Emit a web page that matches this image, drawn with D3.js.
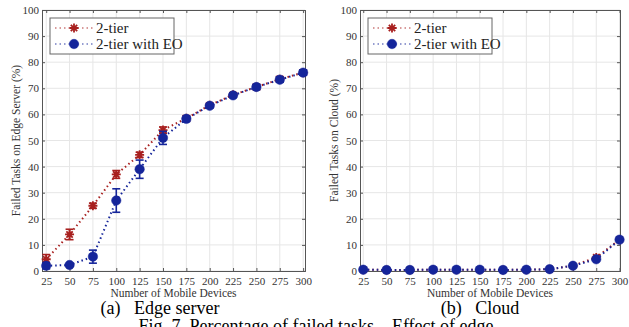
<!DOCTYPE html>
<html>
<head>
<meta charset="utf-8">
<script src="https://cdn.jsdelivr.net/npm/d3@7"></script>
<style>
  body { margin: 0; background: #fff; }
  svg { display: block; }
  svg text { font-family: "Liberation Serif", "Times New Roman", serif; }
</style>
</head>
<body>
<svg id="chart"></svg>
<script>
let width = 629;
let height = 327;
const serif = "Liberation Serif";

// data
const devices = [25, 50, 75, 100, 125, 150, 175, 200, 225, 250, 275, 300];
const yTicks = [0, 10, 20, 30, 40, 50, 60, 70, 80, 90, 100];

const edgeTier2 = [4.5, 14, 25, 37, 44.5, 54, 58.5, 63.5, 67.5, 70.5, 73.5, 76];
const edgeTier2Err = [1.8, 2, 1, 1.5, 1, 1.2, 1, 0.8, 0.8, 1, 1, 1];
const edgeEO = [2, 2.3, 5.5, 27, 39, 51, 58.3, 63.3, 67.3, 70.5, 73.3, 76];
const edgeEOErr = [1.2, 0.5, 2.5, 4.5, 3.5, 2.5, 1, 0.8, 0.8, 1, 1, 1];

const cloudTier2 = [0.5, 0.4, 0.4, 0.5, 0.5, 0.5, 0.4, 0.5, 0.7, 2, 5.2, 12];
const cloudEO = [0.5, 0.4, 0.4, 0.5, 0.5, 0.5, 0.4, 0.5, 0.7, 2, 4.5, 12];

const legendNames = ["2-tier", "2-tier with EO"];
const red = "#a8201f";
const blue = "#15259a";

let svg = d3.select('#chart')
  .attr('width', width)
  .attr('height', height)
  .attr('font-family', serif);

function drawPanel(opts) {
  let x = d3.scaleLinear().domain(opts.xDomain).range([opts.left, opts.right]);
  let y = d3.scaleLinear().domain([0, 100]).range([271, 10]);

  let g = svg.append("g").attr("font-family", serif);

  // grid
  g.append("g").selectAll("line")
    .data(devices)
    .enter().append("line")
      .attr("x1", d => x(d)).attr("x2", d => x(d))
      .attr("y1", y(0)).attr("y2", y(100))
      .attr("stroke", "#e6e6e6").attr("stroke-width", 1);
  g.append("g").selectAll("line")
    .data(yTicks)
    .enter().append("line")
      .attr("x1", opts.left).attr("x2", opts.right)
      .attr("y1", d => y(d)).attr("y2", d => y(d))
      .attr("stroke", "#e6e6e6").attr("stroke-width", 1);

  // axes
  g.append("g")
    .attr("transform", `translate(0,${y(0)})`)
    .call(d3.axisBottom(x).tickValues(devices).tickSize(-3).tickPadding(6));
  g.append("g")
    .attr("transform", `translate(0,${y(100)})`)
    .call(d3.axisTop(x).tickValues(devices).tickSize(-3).tickFormat(""));
  g.append("g")
    .attr("transform", `translate(${opts.left},0)`)
    .call(d3.axisLeft(y).tickValues(yTicks).tickSize(-3).tickPadding(3));
  g.append("g")
    .attr("transform", `translate(${opts.right},0)`)
    .call(d3.axisRight(y).tickValues(yTicks).tickSize(-3).tickFormat(""));

  g.selectAll(".domain").attr("stroke", "#555").attr("stroke-width", 1);
  g.selectAll(".tick line").attr("stroke", "#555");
  g.selectAll("g").attr("font-family", serif);
  g.selectAll(".tick text")
    .attr("font-family", serif)
    .attr("font-size", 11)
    .attr("fill", "#333");

  // axis labels
  g.append("text")
    .attr("x", (opts.left + opts.right) / 2)
    .attr("y", 297)
    .attr("text-anchor", "middle")
    .attr("font-family", serif)
    .attr("font-size", 11.5)
    .attr("fill", "#333")
    .text("Number of Mobile Devices");
  g.append("text")
    .attr("transform", `translate(${opts.left - 22},${y(50)}) rotate(-90)`)
    .attr("text-anchor", "middle")
    .attr("font-family", serif)
    .attr("font-size", 11.5)
    .attr("fill", "#333")
    .text(opts.yLabel);

  let line = d3.line()
    .x((d, i) => x(devices[i]))
    .y(d => y(d));

  function addSeries(values, errs, color, marker) {
    g.append("path")
      .datum(values)
      .attr("fill", "none")
      .attr("stroke", color)
      .attr("stroke-width", 2)
      .attr("stroke-dasharray", "1.5,3")
      .attr("d", line);

    if (errs) {
      let eb = g.append("g").selectAll("g")
        .data(values)
        .enter().append("g")
          .attr("stroke", color)
          .attr("stroke-width", 1.6);
      eb.append("line")
        .attr("x1", (d, i) => x(devices[i])).attr("x2", (d, i) => x(devices[i]))
        .attr("y1", (d, i) => y(d - errs[i])).attr("y2", (d, i) => y(d + errs[i]));
      eb.append("line")
        .attr("x1", (d, i) => x(devices[i]) - 4).attr("x2", (d, i) => x(devices[i]) + 4)
        .attr("y1", (d, i) => y(d - errs[i])).attr("y2", (d, i) => y(d - errs[i]));
      eb.append("line")
        .attr("x1", (d, i) => x(devices[i]) - 4).attr("x2", (d, i) => x(devices[i]) + 4)
        .attr("y1", (d, i) => y(d + errs[i])).attr("y2", (d, i) => y(d + errs[i]));
    }

    g.append("g").selectAll("path")
      .data(values)
      .enter().append("path")
        .attr("transform", (d, i) => `translate(${x(devices[i])},${y(d)})`)
        .attr("d", marker === "star" ? starPath(4.5) : d3.symbol().type(d3.symbolCircle).size(70)())
        .attr("fill", color)
        .attr("stroke", color)
        .attr("stroke-width", marker === "star" ? 1.8 : 0.5);
  }

  addSeries(opts.tier2, opts.tier2Err, red, "star");
  addSeries(opts.eo, opts.eoErr, blue, "circle");

  // legend
  let lx = opts.left + 8, ly = 18;
  let leg = g.append("g");
  leg.append("rect")
    .attr("x", lx).attr("y", ly)
    .attr("width", 124).attr("height", 36)
    .attr("fill", "#fff")
    .attr("stroke", "#666")
    .attr("stroke-width", 1);
  [[red, "star"], [blue, "circle"]].forEach((s, i) => {
    let cy = ly + 10 + i * 16;
    leg.append("line")
      .attr("x1", lx + 5).attr("x2", lx + 43)
      .attr("y1", cy).attr("y2", cy)
      .attr("stroke", s[0])
      .attr("stroke-width", 1.5)
      .attr("stroke-opacity", 0.6)
      .attr("stroke-dasharray", "1.5,3");
    leg.append("path")
      .attr("transform", `translate(${lx + 24},${cy})`)
      .attr("d", s[1] === "star" ? starPath(4.5) : d3.symbol().type(d3.symbolCircle).size(70)())
      .attr("fill", s[0])
      .attr("stroke", s[0])
      .attr("stroke-width", s[1] === "star" ? 1.8 : 0.5);
    leg.append("text")
      .attr("x", lx + 46).attr("y", cy + 5)
      .attr("font-family", serif)
      .attr("font-size", 15)
      .attr("fill", "#222")
      .text(legendNames[i]);
  });

  // caption
  svg.append("text")
    .attr("x", opts.captionX)
    .attr("y", 314)
    .attr("text-anchor", "middle")
    .attr("font-family", serif)
    .attr("font-size", 18)
    .attr("fill", "#000")
    .attr("xml:space", "preserve")
    .text(opts.caption);
}

// asterisk marker: 4 crossing strokes
function starPath(r) {
  let p = "";
  for (let k = 0; k < 4; k++) {
    let a = k * Math.PI / 4;
    let dx = r * Math.cos(a), dy = r * Math.sin(a);
    p += `M${-dx},${-dy}L${dx},${dy}`;
  }
  return p;
}

drawPanel({
  left: 42, right: 305, xDomain: [20.5, 302],
  tier2: edgeTier2, tier2Err: edgeTier2Err,
  eo: edgeEO, eoErr: edgeEOErr,
  yLabel: "Failed Tasks on Edge Server (%)",
  caption: "(a)   Edge server", captionX: 160
});

drawPanel({
  left: 360, right: 620, xDomain: [21.5, 300.5],
  tier2: cloudTier2, tier2Err: null,
  eo: cloudEO, eoErr: null,
  yLabel: "Failed Tasks on Cloud (%)",
  caption: "(b)   Cloud", captionX: 480
});

// figure caption, cut off by the bottom edge as in the source
svg.append("text")
  .attr("x", 316)
  .attr("y", 332)
  .attr("text-anchor", "middle")
  .attr("font-family", serif)
  .attr("font-size", 18)
  .attr("fill", "#000")
  .text("Fig. 7. Percentage of failed tasks \u2013 Effect of edge");
</script>
</body>
</html>
